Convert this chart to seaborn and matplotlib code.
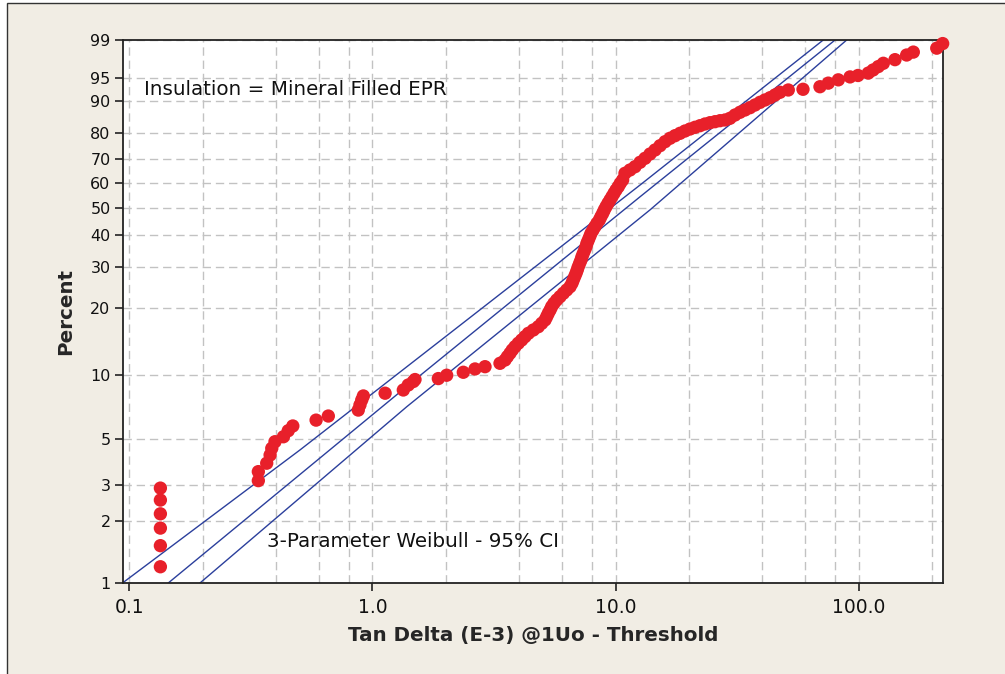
# Weibull probability plot: tan delta (minus threshold) vs percent
import numpy as np
import pandas as pd
import matplotlib
matplotlib.use("Agg")
import matplotlib.pyplot as plt
import seaborn as sns
from matplotlib.patches import Rectangle
from matplotlib.ticker import NullFormatter, NullLocator

sns.set_style("ticks")
plt.rcParams['font.family'] = ['DejaVu Sans']

# Data
tan_delta = [
    0.134, 0.134, 0.134, 0.134, 0.134, 0.134,
    0.339, 0.339, 0.367, 0.379, 0.385, 0.397, 0.430, 0.450, 0.470,
    0.586, 0.658,
    0.874, 0.888, 0.903, 0.917,
    1.127,
    1.339, 1.403, 1.472, 1.496,
    1.866, 2.02, 2.364, 2.642, 2.904,
    3.347,
    3.51, 3.59, 3.68, 3.76, 3.86, 3.98, 4.11, 4.24, 4.38, 4.59,
    4.81, 4.97, 5.13, 5.21, 5.29, 5.38, 5.46, 5.58, 5.73, 5.91,
    6.10, 6.30, 6.50, 6.62, 6.70, 6.79, 6.88, 6.96, 7.03, 7.12,
    7.21, 7.28, 7.37, 7.47, 7.56, 7.63, 7.73, 7.83, 7.93, 8.08,
    8.23, 8.39, 8.58, 8.71, 8.86, 8.99, 9.14, 9.31, 9.49, 9.67,
    9.86, 10.05, 10.27, 10.46, 10.70,
    10.94, 11.47, 12.03, 12.62, 13.23, 13.87, 14.54, 15.25, 15.99, 16.76,
    17.58, 18.43, 19.32, 20.26, 21.25, 22.27, 23.35, 24.48, 25.67, 26.92,
    28.22, 29.59, 31.03, 32.53, 34.11, 35.77, 37.50, 39.33, 41.22, 43.24,
    45.33, 47.53, 51.41,
    59.1, 69.4, 75.1, 82.6, 92.3, 99.5, 109.7, 114.8, 120.6, 126.5,
    141.3, 157.8, 168.1, 209.9, 222.0,
]
percent = [
    1.2, 1.52, 1.85, 2.17, 2.53, 2.89,
    3.14, 3.47, 3.81, 4.17, 4.49, 4.83, 5.10, 5.45, 5.74,
    6.12, 6.40,
    6.83, 7.22, 7.62, 7.96,
    8.2,
    8.49, 8.96, 9.3, 9.5,
    9.6, 9.95, 10.27, 10.64, 10.9,
    11.3,
    11.7, 12.12, 12.57, 13.01, 13.47, 13.96, 14.44, 14.95, 15.48, 16.02,
    16.57, 17.16, 17.76, 18.36, 19.01, 19.65, 20.32, 21.02, 21.73, 22.45,
    23.22, 23.98, 24.76, 25.61, 26.43, 27.29, 28.19, 29.09, 30.0, 30.97,
    31.93, 32.92, 33.96, 34.99, 36.05, 37.15, 38.25, 39.37, 40.55, 41.71,
    42.9, 44.13, 45.35, 46.59, 47.88, 49.15, 50.44, 51.78, 53.1, 54.42,
    55.81, 57.16, 58.51, 59.91, 61.28,
    64.06, 65.43, 66.79, 68.61, 70.24, 71.98, 73.58, 75.27, 76.82, 78.11,
    79.08, 79.95, 80.78, 81.49, 82.09, 82.64, 83.22, 83.66, 83.99, 84.32,
    84.55, 85.10, 86.13, 86.96, 87.64, 88.30, 89.05, 89.77, 90.37, 90.94,
    91.59, 92.21, 92.72,
    92.87, 93.4, 94.1, 94.7, 95.2, 95.43, 95.8, 96.25, 96.7, 97.1,
    97.5, 97.95, 98.2, 98.5, 98.8,
]

# fitted line and 95% confidence bounds
upper_x = [0.0936, 0.503, 2.77, 12.62, 71.6]
upper_p = [1.0, 4.41, 19.7, 59.2, 99.0]
fit_x = [0.1444, 1.52, 12.62, 80.1]
fit_p = [1.0, 9.63, 54.4, 99.0]
lower_x = [0.195, 1.383, 13.87, 89.4]
lower_p = [1.0, 7.08, 49.2, 99.0]

y_ticks = [1, 2, 3, 5, 10, 20, 30, 40, 50, 60, 70, 80, 90, 95, 99]
x_ticks = [0.1, 1, 10, 100]
x_tick_labels = ["0.1", "1.0", "10.0", "100.0"]
x_grid = [0.2, 0.4, 0.6, 0.8, 2, 4, 6, 8, 20, 40, 60, 80, 200]

df = pd.DataFrame({"tan_delta": tan_delta, "percent": percent})

red = "#E8202A"
blue = "#2B3F9C"
bg = "#F1EDE4"
grid_color = "#C2C2C2"


def weibull_fwd(p):
    p = np.clip(np.asarray(p, dtype=float), 1e-6, 100 - 1e-6)
    return np.log(-np.log(1 - p / 100.0))


def weibull_inv(t):
    return 100.0 * (1 - np.exp(-np.exp(t)))


fig = plt.figure(figsize=(10.05, 6.74), dpi=100)
fig.patch.set_facecolor("white")
# beige panel with a thin frame on the left and top
fig.add_artist(Rectangle((7 / 1005, -0.05), 1.2, 1.05 - 3 / 674,
                         transform=fig.transFigure, facecolor=bg,
                         edgecolor="#333333", lw=1.0, zorder=-10))

ax = fig.add_axes([123 / 1005, 1 - 583 / 674, 820 / 1005, 543 / 674])
ax.set_facecolor("white")

for lx, lp in [(upper_x, upper_p), (fit_x, fit_p), (lower_x, lower_p)]:
    sns.lineplot(x=lx, y=lp, ax=ax, color=blue, linewidth=1.0,
                 estimator=None, sort=False, zorder=2)

sns.scatterplot(data=df, x="tan_delta", y="percent", ax=ax, color=red,
                s=92, edgecolor="none", linewidth=0, zorder=3, clip_on=False)

ax.set_xscale("log")
ax.set_yscale("function", functions=(weibull_fwd, weibull_inv))
ax.set_xlim(0.09403, 222.7)
ax.set_ylim(1, 99)

ax.set_xticks(x_ticks)
ax.set_xticklabels(x_tick_labels)
ax.set_xticks(x_grid, minor=True)
ax.xaxis.set_minor_formatter(NullFormatter())
ax.set_yticks(y_ticks)
ax.set_yticklabels([str(v) for v in y_ticks])
ax.yaxis.set_minor_locator(NullLocator())

ax.tick_params(which="minor", length=0)
ax.tick_params(which="major", direction="out", length=6, width=1.2,
               color="#222222", labelcolor="#111111")
ax.tick_params(axis="x", labelsize=13.5, pad=5)
ax.tick_params(axis="y", labelsize=11.5, pad=3)

dash = (0, (6, 3.5))
ax.grid(True, which="both", axis="x", color=grid_color, linestyle=dash, linewidth=1.0)
ax.grid(True, which="major", axis="y", color=grid_color, linestyle=dash, linewidth=1.0)
ax.set_axisbelow(True)

for side in ["left", "right", "top", "bottom"]:
    ax.spines[side].set_visible(True)
    ax.spines[side].set_color("#222222")
    ax.spines[side].set_linewidth(1.3)

ax.set_xlabel("Tan Delta (E-3) @1Uo - Threshold", fontsize=14.3, fontweight="bold")
ax.set_ylabel("Percent", fontsize=14.3, fontweight="bold")
ax.xaxis.set_label_coords(0.5, -0.079)
ax.yaxis.set_label_coords(-0.0585, 0.5)

ax.text(0.0256, 0.8987, "Insulation = Mineral Filled EPR", transform=ax.transAxes,
        fontsize=14.3, va="baseline", ha="left", color="#111111")
ax.text(0.1756, 0.0668, "3-Parameter Weibull - 95% CI", transform=ax.transAxes,
        fontsize=14.3, va="baseline", ha="left", color="#111111")

fig.savefig("out.png", dpi=100, facecolor=fig.get_facecolor())
